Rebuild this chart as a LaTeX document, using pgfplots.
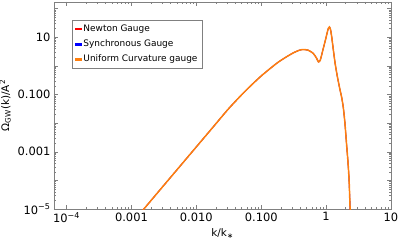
\documentclass[border=0pt]{standalone}
\usepackage{fontspec}
\setmainfont{DejaVu Sans}
\usepackage{pgfplots}
\pgfplotsset{compat=1.18}
\definecolor{morange}{RGB}{255,127,14}
\begin{document}
\begin{tikzpicture}[x=1bp,y=1bp]
\useasboundingbox (0,0) rectangle (399,245);
\begin{axis}[
  at={(54bp,36bp)}, anchor=south west,
  scale only axis, width=337bp, height=207bp,
  xmode=log, ymode=log,
  xmin=6.4e-5, xmax=10, ymin=1e-5, ymax=170,
  axis line style={gray}, every tick/.style={gray},
  tick align=inside, xtick pos=both, ytick pos=both,
  xtick={1e-4,1e-3,1e-2,1e-1,1,10},
  xticklabels={10\textsuperscript{−4},0.001,0.010,0.100,1,10},
  ytick={1e-5,1e-4,1e-3,1e-2,1e-1,1,10,100},
  yticklabels={10\textsuperscript{−5},,0.001,,0.100,,10,},
  minor x tick num=8, 
  major tick length=4bp, minor tick length=2bp,
  tick label style={font=\fontsize{11.5}{13}\selectfont, black},
  xlabel={k/k\textsubscript{∗}}, ylabel={Ω\textsubscript{GW}(k)/A\textsuperscript{2}},
  label style={font=\fontsize{10.5}{12}\selectfont},
  xlabel style={yshift=1bp},
  ylabel style={yshift=0bp},
  legend style={at={(0.053,0.913)}, anchor=north west, draw=gray, font=\fontsize{9}{10.5}\selectfont, row sep=3bp, inner sep=2.5bp},
  legend cell align=left,
]
\pgfplotstableread{
k Om
0.001259 5.7e-6
0.001514 9.33e-6
0.003162 6.76e-5
0.005623 3.16e-4
0.01 1.48e-3
0.01778 6.92e-3
0.03162 0.0324
0.05623 0.1288
0.1 0.4446
0.1778 1.282
0.2512 2.138
0.3162 2.884
0.3802 3.467
0.4365 3.724
0.5248 3.548
0.631 2.754
0.7079 1.905
0.762 1.377
0.8128 1.585
0.8913 3.548
1.0 10
1.0715 19.05
1.1246 22.9
1.175 17.78
1.230 8.91
1.294 3.524
1.380 1.175
1.493 0.414
1.641 0.1422
1.738 0.0794
1.845 0.0336
1.950 0.01
2.080 1.51e-3
2.163 5.0e-4
2.259 1.05e-4
2.339 1.1e-5
2.371 2.5e-6
}\datatab
\addlegendimage{legend image code/.code={\fill[red] (0bp,-0.9bp) rectangle (6.5bp,0.9bp);}}
\addlegendentry{Newton Gauge}
\addlegendimage{legend image code/.code={\fill[blue] (0bp,-0.9bp) rectangle (6.5bp,0.9bp);}}
\addlegendentry{Synchronous Gauge}
\addlegendimage{legend image code/.code={\fill[morange] (0bp,-0.9bp) rectangle (6.5bp,0.9bp);}}
\addlegendentry{Uniform Curvature gauge}
\addplot[red, line width=0.8pt, smooth, tension=0.4, forget plot] table[x=k,y=Om] {\datatab};
\addplot[blue, line width=0.8pt, smooth, tension=0.4, forget plot] table[x=k,y=Om] {\datatab};
\addplot[morange, line width=1.5pt, smooth, tension=0.4, forget plot] table[x=k,y=Om] {\datatab};
\end{axis}
\end{tikzpicture}
\end{document}
